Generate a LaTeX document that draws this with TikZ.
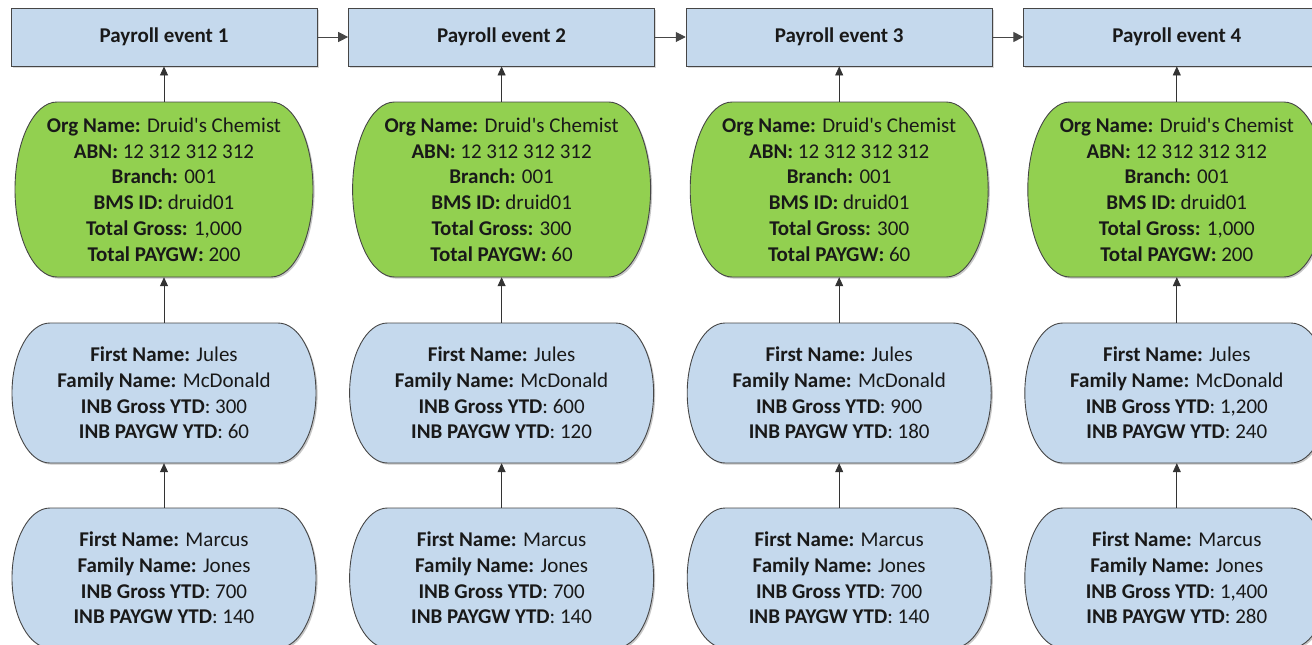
\documentclass[tikz,border=0pt]{standalone}
\usepackage{fontspec}
\setmainfont{Carlito}[Ligatures=TeXOff]
\usetikzlibrary{arrows.meta,shadows}
\definecolor{hdrblue}{RGB}{197,217,237}
\definecolor{orggreen}{RGB}{146,208,80}
\definecolor{edgegray}{RGB}{70,70,70}
\definecolor{txt}{RGB}{25,25,25}

% pill outline with elliptical ends: centre x, centre y, half width,
% half height, horizontal radius of the ends, fill colour
\newcommand{\drawpill}[6]{%
  \pgfmathsetmacro{\pq}{0.448*#5}%
  \pgfmathsetmacro{\pp}{0.552*#4}%
  \path[draw=edgegray, line width=0.9pt, fill=#6,
        preaction={fill=black, opacity=.22, transform canvas={shift={(1.6pt,-1.6pt)}}}]
    ({#1-#3+#5},{#2-#4}) -- ({#1+#3-#5},{#2-#4})
    .. controls ({#1+#3-\pq},{#2-#4}) and ({#1+#3},{#2-\pp}) .. ({#1+#3},{#2})
    .. controls ({#1+#3},{#2+\pp}) and ({#1+#3-\pq},{#2+#4}) .. ({#1+#3-#5},{#2+#4})
    -- ({#1-#3+#5},{#2+#4})
    .. controls ({#1-#3+\pq},{#2+#4}) and ({#1-#3},{#2+\pp}) .. ({#1-#3},{#2})
    .. controls ({#1-#3},{#2-\pp}) and ({#1-#3+\pq},{#2-#4}) .. cycle;}

\begin{document}
\begin{tikzpicture}[x=1pt,y=-1pt,
  txtstyle/.style={text=txt, align=center, inner sep=0pt, rectangle,
    font=\fontsize{21}{25.8}\selectfont},
  header/.style={txtstyle, draw=edgegray, line width=0.9pt, fill=hdrblue,
    minimum width=306pt, minimum height=58pt,
    drop shadow={shadow xshift=1.5pt,shadow yshift=-1.5pt,opacity=.3}},
  orgbox/.style={txtstyle, minimum width=298pt, minimum height=175pt},
  empbox/.style={txtstyle, minimum width=304pt, minimum height=140pt},
  arr/.style={-{Triangle[length=9pt,width=8pt]}, line width=0.8pt, draw=black!80},
  flow/.style={-{Triangle[length=10pt,width=10pt]}, line width=1pt, draw=edgegray}]
\useasboundingbox (0,0) rectangle (1312,645);
\clip (0,0) rectangle (1312,645);

% one column per payroll event: event box, organisation summary, two employees
\foreach \i/\tg/\tp/\jg/\jp/\mg/\mp in {
    1/{1,000}/200/300/60/700/140,
    2/300/60/600/120/700/140,
    3/300/60/900/180/700/140,
    4/{1,000}/200/{1,200}/240/{1,400}/280} {
  \pgfmathsetmacro{\cx}{164+337.6*(\i-1)}
  \drawpill{\cx}{189.5}{149}{87.5}{42}{orggreen}
  \drawpill{\cx}{393}{152}{70}{38}{hdrblue}
  \drawpill{\cx}{578}{152}{70}{38}{hdrblue}
  \node[header] (h\i) at (\cx,37) {\textbf{Payroll event \i}};
  \node[orgbox] (g\i) at (\cx,189.5) {\textbf{Org Name:} Druid's Chemist\\
    \textbf{ABN:} 12 312 312 312\\
    \textbf{Branch:} 001\\
    \textbf{BMS ID:} druid01\\
    \textbf{Total Gross:} \tg\\
    \textbf{Total PAYGW:} \tp};
  \node[empbox] (j\i) at (\cx,393) {\textbf{First Name:} Jules\\
    \textbf{Family Name:} McDonald\\
    \textbf{INB Gross YTD}: \jg\\
    \textbf{INB PAYGW YTD}: \jp};
  \node[empbox] (m\i) at (\cx,578) {\textbf{First Name:} Marcus\\
    \textbf{Family Name:} Jones\\
    \textbf{INB Gross YTD}: \mg\\
    \textbf{INB PAYGW YTD}: \mp};
  \draw[arr] (g\i.north) -- (h\i.south);
  \draw[arr] (j\i.north) -- (g\i.south);
  \draw[arr] (m\i.north) -- (j\i.south);
}

% sequence of payroll events
\draw[flow] (h1.east) -- (h2.west);
\draw[flow] (h2.east) -- (h3.west);
\draw[flow] (h3.east) -- (h4.west);
\end{tikzpicture}
\end{document}
